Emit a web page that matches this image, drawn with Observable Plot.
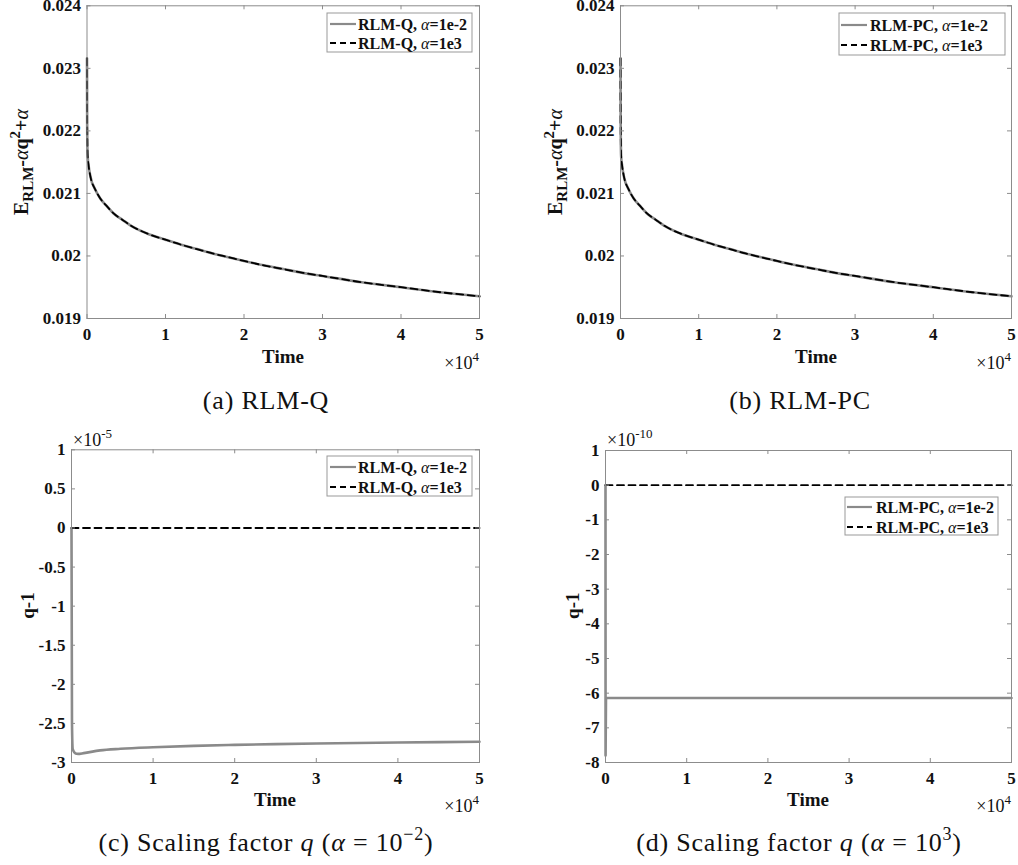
<!DOCTYPE html>
<html>
<head>
<meta charset="utf-8">
<script src="https://cdn.jsdelivr.net/npm/d3@7"></script>
<script src="https://cdn.jsdelivr.net/npm/@observablehq/plot@0.6"></script>
<style>
  html, body { margin: 0; padding: 0; background: #fff; }
  #fig { position: relative; width: 1018px; height: 865px; overflow: hidden; background: #fff; }
  #fig > svg { position: absolute; }
</style>
</head>
<body>
<div id="fig"></div>
<script>
// ---------------- data ----------------
const xTicks = [0, 10000, 20000, 30000, 40000, 50000];

// (a)/(b) energy  E_RLM - alpha q^2 + alpha
const timeE = [0, 20, 80, 200, 420, 1060, 1690, 2500, 3390, 4500, 5520, 7640, 10000, 12000, 14000, 16000, 18000, 20000, 22500, 25000, 27500, 30000, 35000, 40000, 45000, 50000];
const energyQ_a1e_2  = [0.02316, 0.02215, 0.02160, 0.02145, 0.02128, 0.02106, 0.02092, 0.02080, 0.02068, 0.02058, 0.02049, 0.02036, 0.02026, 0.02018, 0.02011, 0.02004, 0.01998, 0.01992, 0.01985, 0.01979, 0.01973, 0.01968, 0.01958, 0.01950, 0.01942, 0.019355];
const energyQ_a1e3   = [0.02316, 0.02215, 0.02160, 0.02145, 0.02128, 0.02106, 0.02092, 0.02080, 0.02068, 0.02058, 0.02049, 0.02036, 0.02026, 0.02018, 0.02011, 0.02004, 0.01998, 0.01992, 0.01985, 0.01979, 0.01973, 0.01968, 0.01958, 0.01950, 0.01942, 0.019355];
const energyPC_a1e_2 = [0.02316, 0.02215, 0.02160, 0.02145, 0.02128, 0.02106, 0.02092, 0.02080, 0.02068, 0.02058, 0.02049, 0.02036, 0.02026, 0.02018, 0.02011, 0.02004, 0.01998, 0.01992, 0.01985, 0.01979, 0.01973, 0.01968, 0.01958, 0.01950, 0.01942, 0.019355];
const energyPC_a1e3  = [0.02316, 0.02215, 0.02160, 0.02145, 0.02128, 0.02106, 0.02092, 0.02080, 0.02068, 0.02058, 0.02049, 0.02036, 0.02026, 0.02018, 0.02011, 0.02004, 0.01998, 0.01992, 0.01985, 0.01979, 0.01973, 0.01968, 0.01958, 0.01950, 0.01942, 0.019355];
const yTicksE = [0.019, 0.02, 0.021, 0.022, 0.023, 0.024];

// (c) q-1 (units of 1e-5)
const timeQc = [0, 60, 150, 500, 800, 1500, 3500, 6000, 10000, 15000, 20000, 25000, 30000, 35000, 40000, 45000, 50000];
const qQ_a1e_2 = [0, -2.5, -2.83, -2.885, -2.89, -2.88, -2.845, -2.825, -2.805, -2.787, -2.775, -2.765, -2.757, -2.75, -2.744, -2.739, -2.735];
const timeQcDash = [0, 50000];
const qQ_a1e3 = [0, 0];
const yTicksC = [-3, -2.5, -2, -1.5, -1, -0.5, 0, 0.5, 1];

// (d) q-1 (units of 1e-10)
const timeQd = [0, 10, 60, 50000];
const qPC_a1e_2 = [0, -7.8, -6.14, -6.14];
const timeQdDash = [0, 50000];
const qPC_a1e3 = [0, 0];
const yTicksD = [-8, -7, -6, -5, -4, -3, -2, -1, 0, 1];

// ---------------- drawing ----------------
const SERIF = "'Liberation Serif', 'Times New Roman', serif";
const GRAY = "#8c8c8c";
const fig = document.getElementById("fig");

function zip(ts, vs) { return ts.map((t, i) => ({t, v: vs[i]})); }

function panel({left, top, width, height, mL, mR, mT, mB, yDomain, yTicks, solid, dashed, curve}) {
  const fw = width - mL - mR, fh = height - mT - mB;
  const svg = Plot.plot({
    width, height,
    marginLeft: mL, marginRight: mR, marginTop: mT, marginBottom: mB,
    x: {domain: [0, 50000]},
    y: {domain: yDomain},
    style: `font-family: ${SERIF}; font-size: 17px; font-weight: bold; color: #111; background: transparent; overflow: visible;`,
    marks: [
      Plot.line(solid, {x: "t", y: "v", stroke: "#8a8a8a", strokeWidth: 2.6, curve}),
      Plot.line(dashed, {x: "t", y: "v", stroke: "#000", strokeWidth: 1.8, strokeDasharray: "7,4.5", curve}),
      Plot.tickX(xTicks, {x: d => d, insetTop: fh - 4, stroke: GRAY}),
      Plot.tickX(xTicks, {x: d => d, insetBottom: fh - 4, stroke: GRAY}),
      Plot.tickY(yTicks, {y: d => d, insetRight: fw - 4, stroke: GRAY}),
      Plot.tickY(yTicks, {y: d => d, insetLeft: fw - 4, stroke: GRAY}),
      Plot.frame({stroke: GRAY}),
      Plot.axisX(xTicks, {tickSize: 0, tickPadding: 9, tickFormat: d => String(d / 1e4), label: null}),
      Plot.axisY(yTicks, {tickSize: 0, tickPadding: 6, tickFormat: d => String(d), label: null})
    ]
  });
  svg.style.left = left + "px";
  svg.style.top = top + "px";
  fig.appendChild(svg);
}

panel({left: 0, top: 0, width: 509, height: 380, mL: 86.5, mR: 30, mT: 5.3, mB: 62,
  yDomain: [0.019, 0.024], yTicks: yTicksE, curve: "monotone-x",
  solid: zip(timeE, energyQ_a1e_2), dashed: zip(timeE, energyQ_a1e3)});
panel({left: 509, top: 0, width: 509, height: 380, mL: 111, mR: 7, mT: 5.3, mB: 62,
  yDomain: [0.019, 0.024], yTicks: yTicksE, curve: "monotone-x",
  solid: zip(timeE, energyPC_a1e_2), dashed: zip(timeE, energyPC_a1e3)});
panel({left: 0, top: 430, width: 509, height: 380, mL: 71, mR: 30, mT: 19.3, mB: 48,
  yDomain: [-3, 1], yTicks: yTicksC, curve: "monotone-x",
  solid: zip(timeQc, qQ_a1e_2), dashed: zip(timeQcDash, qQ_a1e3)});
panel({left: 509, top: 430, width: 509, height: 380, mL: 96, mR: 7, mT: 20, mB: 48,
  yDomain: [-8, 1], yTicks: yTicksD, curve: "linear",
  solid: zip(timeQd, qPC_a1e_2), dashed: zip(timeQdDash, qPC_a1e3)});

// ---------------- overlay text & legends ----------------
const ov = d3.select(fig).append("svg")
  .attr("width", 1018).attr("height", 865)
  .style("left", "0px").style("top", "0px");

function txt(x, y, parts, o = {}) {
  const t = ov.append("text")
    .attr("x", x).attr("y", y)
    .attr("text-anchor", o.anchor || "start")
    .attr("font-family", SERIF)
    .attr("font-size", o.size || 17)
    .attr("font-weight", o.weight || "normal")
    .attr("fill", "#111");
  if (o.spacing) t.attr("letter-spacing", o.spacing);
  if (o.rotate) t.attr("transform", `rotate(${o.rotate},${x},${y})`);
  for (const p of parts) {
    const s = t.append("tspan").text(p.t);
    if (p.dy) s.attr("dy", p.dy);
    if (p.size) s.attr("font-size", p.size);
    if (p.italic) s.attr("font-style", "italic");
    if (p.weight) s.attr("font-weight", p.weight);
  }
}

// axis labels
const eLabel = [{t: "E"}, {t: "RLM", dy: 5, size: 15}, {t: "-", dy: -5}, {t: "α", italic: true, weight: "normal"}, {t: "q"}, {t: "2", dy: -8, size: 15}, {t: "+", dy: 8}, {t: "α", italic: true, weight: "normal"}];
txt(28, 162, eLabel, {anchor: "middle", size: 20, weight: "bold", rotate: -90});
txt(562, 162, eLabel, {anchor: "middle", size: 20, weight: "bold", rotate: -90});
txt(34, 605.5, [{t: "q-1"}], {anchor: "middle", size: 19, weight: "bold", rotate: -90});
txt(579, 605.7, [{t: "q-1"}], {anchor: "middle", size: 19, weight: "bold", rotate: -90});

txt(283, 363, [{t: "Time"}], {anchor: "middle", size: 19, weight: "bold"});
txt(816, 363, [{t: "Time"}], {anchor: "middle", size: 19, weight: "bold"});
txt(275, 806, [{t: "Time"}], {anchor: "middle", size: 19, weight: "bold"});
txt(808, 806, [{t: "Time"}], {anchor: "middle", size: 19, weight: "bold"});

// exponent annotations
const e4 = [{t: "×10"}, {t: "4", dy: -8, size: 13}];
txt(479, 369, e4, {anchor: "end", size: 18});
txt(1011, 369, e4, {anchor: "end", size: 18});
txt(479, 812, e4, {anchor: "end", size: 18});
txt(1011, 812, e4, {anchor: "end", size: 18});
txt(73, 446, [{t: "×10"}, {t: "-5", dy: -8, size: 13}], {size: 18});
txt(607, 446, [{t: "×10"}, {t: "-10", dy: -8, size: 13}], {size: 18});

// legends
function legend(x0, y0, x1, y1, rows, lx0, lx1, tx) {
  ov.append("rect").attr("x", x0).attr("y", y0).attr("width", x1 - x0).attr("height", y1 - y0)
    .attr("fill", "#fff").attr("stroke", "#999").attr("stroke-width", 1);
  for (const r of rows) {
    ov.append("line").attr("x1", lx0).attr("x2", lx1).attr("y1", r.y).attr("y2", r.y)
      .attr("stroke", r.dashed ? "#000" : "#8a8a8a").attr("stroke-width", r.dashed ? 1.8 : 2.2)
      .attr("stroke-dasharray", r.dashed ? "6,4" : null);
    txt(tx, r.y + 5.5, [{t: r.name + ", "}, {t: "α", italic: true, weight: "normal"}, {t: "=" + r.alpha}], {size: 16, weight: "bold"});
  }
}
legend(327, 13, 472, 52, [{y: 24, name: "RLM-Q", alpha: "1e-2"}, {y: 43, name: "RLM-Q", alpha: "1e3", dashed: true}], 330, 356, 358);
legend(839, 13, 1005, 55, [{y: 25, name: "RLM-PC", alpha: "1e-2"}, {y: 45, name: "RLM-PC", alpha: "1e3", dashed: true}], 841, 867, 870);
legend(327, 456, 472, 496, [{y: 467, name: "RLM-Q", alpha: "1e-2"}, {y: 487, name: "RLM-Q", alpha: "1e3", dashed: true}], 330, 356, 358);
legend(845, 497, 998, 535, [{y: 507, name: "RLM-PC", alpha: "1e-2"}, {y: 527, name: "RLM-PC", alpha: "1e3", dashed: true}], 847, 872, 876);

// captions
txt(266, 409, [{t: "(a) RLM-Q"}], {anchor: "middle", size: 26, spacing: 0.8});
txt(800, 409, [{t: "(b) RLM-PC"}], {anchor: "middle", size: 26, spacing: 0.8});
txt(266, 851, [{t: "(c) Scaling factor "}, {t: "q", italic: true}, {t: " ("}, {t: "α", italic: true}, {t: " = 10"}, {t: "−2", dy: -11, size: 18}, {t: ")", dy: 11}], {anchor: "middle", size: 26, spacing: 0.8});
txt(799, 851, [{t: "(d) Scaling factor "}, {t: "q", italic: true}, {t: " ("}, {t: "α", italic: true}, {t: " = 10"}, {t: "3", dy: -11, size: 18}, {t: ")", dy: 11}], {anchor: "middle", size: 26, spacing: 0.8});
</script>
</body>
</html>
